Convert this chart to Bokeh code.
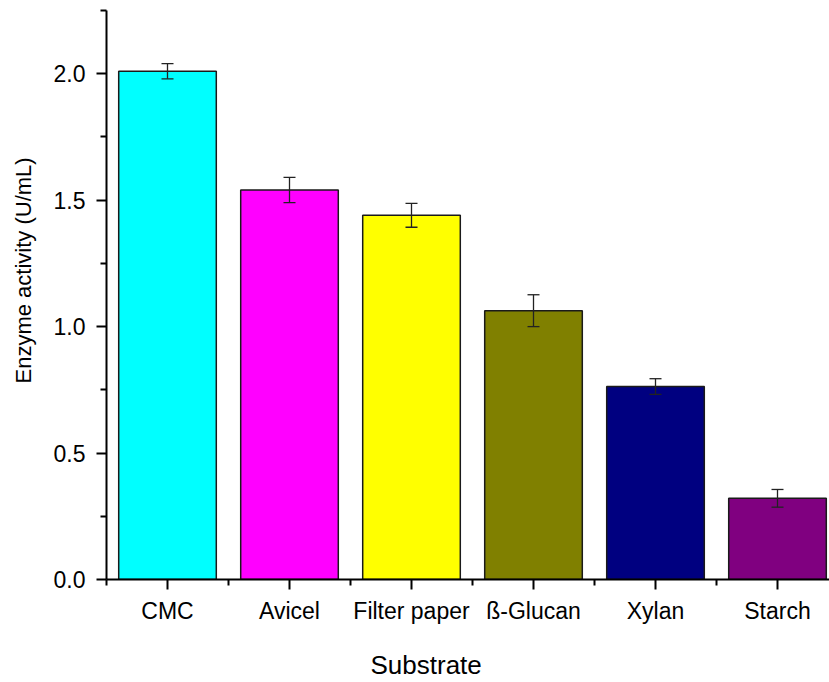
from bokeh.plotting import figure
from bokeh.models import (ColumnDataSource, Whisker, TeeHead, FixedTicker,
                          NumeralTickFormatter, Range1d, Title, LinearAxis)
from bokeh.embed import file_html
from bokeh.resources import INLINE

categories = ["CMC", "Avicel", "Filter paper", "\u00df-Glucan", "Xylan", "Starch"]
activity = [2.01, 1.54, 1.44, 1.063, 0.763, 0.321]
errors = [0.03, 0.05, 0.047, 0.063, 0.031, 0.035]
bar_colors = ["#00FFFF", "#FF00FF", "#FFFF00", "#808000", "#000080", "#800080"]
y_ticks = [0.0, 0.5, 1.0, 1.5, 2.0]
y_minor = [0.25, 0.75, 1.25, 1.75, 2.25]
x_title = "Substrate"
y_title = "Enzyme activity (U/mL)"

xs = list(range(len(categories)))
src = ColumnDataSource(dict(
    x=xs, top=activity, color=bar_colors,
    upper=[a + e for a, e in zip(activity, errors)],
    lower=[a - e for a, e in zip(activity, errors)],
))

W, H = 829, 682
FRAME_L, FRAME_T, FRAME_B = 106, 10, 579
PX_PER_CAT = 122
YMAX = 2.25
p = figure(width=W, height=H, output_backend="svg", toolbar_location=None,
           x_range=Range1d(-0.5, -0.5 + (W - FRAME_L) / PX_PER_CAT),
           y_range=Range1d(0, YMAX),
           min_border_left=FRAME_L, min_border_right=0, min_border_top=FRAME_T,
           min_border_bottom=H - FRAME_B)
p.outline_line_color = None
p.xgrid.visible = False
p.ygrid.visible = False

p.vbar(x="x", top="top", width=0.8, bottom=0, source=src, fill_color="color",
       line_color="#1a1a1a", line_width=1.5)

wh = Whisker(base="x", upper="upper", lower="lower", source=src, level="annotation",
             line_color="#222222", line_width=1.3,
             upper_head=TeeHead(size=12, line_color="#222222", line_width=1.3),
             lower_head=TeeHead(size=12, line_color="#222222", line_width=1.3))
p.add_layout(wh)

FONT = "Liberation Sans"

# x axis
p.xaxis.ticker = FixedTicker(ticks=xs, minor_ticks=[i + 0.5 for i in range(-1, len(categories))])
p.xaxis.major_label_overrides = {i: c for i, c in enumerate(categories)}

# y axis
p.yaxis.ticker = FixedTicker(ticks=y_ticks, minor_ticks=y_minor)
p.yaxis.formatter = NumeralTickFormatter(format="0.0")

for ax in (p.xaxis[0], p.yaxis[0]):
    ax.axis_line_width = 2
    ax.axis_line_color = "black"
    ax.major_tick_line_width = 2
    ax.major_tick_line_color = "black"
    ax.minor_tick_line_width = 2
    ax.minor_tick_line_color = "black"
    ax.major_tick_in = 0
    ax.major_tick_out = 10
    ax.minor_tick_in = 0
    ax.minor_tick_out = 6
    ax.major_label_text_font = FONT
    ax.major_label_text_font_size = "23px"
    ax.major_label_text_color = "black"

p.xaxis.major_label_standoff = 8
p.yaxis.major_label_standoff = 11


def spacer(size):
    """An invisible axis that only reserves `size` pixels of room in a side panel."""
    return LinearAxis(ticker=FixedTicker(ticks=[1]), axis_line_color=None,
                      major_tick_line_color=None, minor_tick_line_color=None,
                      major_tick_in=0, major_tick_out=size, minor_tick_out=0,
                      major_label_standoff=0, major_label_text_font_size="0px",
                      major_label_text_color=None)


p.add_layout(spacer(21), "below")
p.add_layout(spacer(15), "left")

# axis titles as side-panel titles, so they can sit off-centre like the original
xt = Title(text=x_title, align="left", offset=264, text_font=FONT,
           text_font_size="26px", text_font_style="normal", text_color="black",
           standoff=0)
p.add_layout(xt, "below")
yt = Title(text=y_title, align="left", offset=196, text_font=FONT,
           text_font_size="22px", text_font_style="normal", text_color="black",
           standoff=0)
p.add_layout(yt, "left")

open("out.html", "w").write(file_html(p, INLINE))
